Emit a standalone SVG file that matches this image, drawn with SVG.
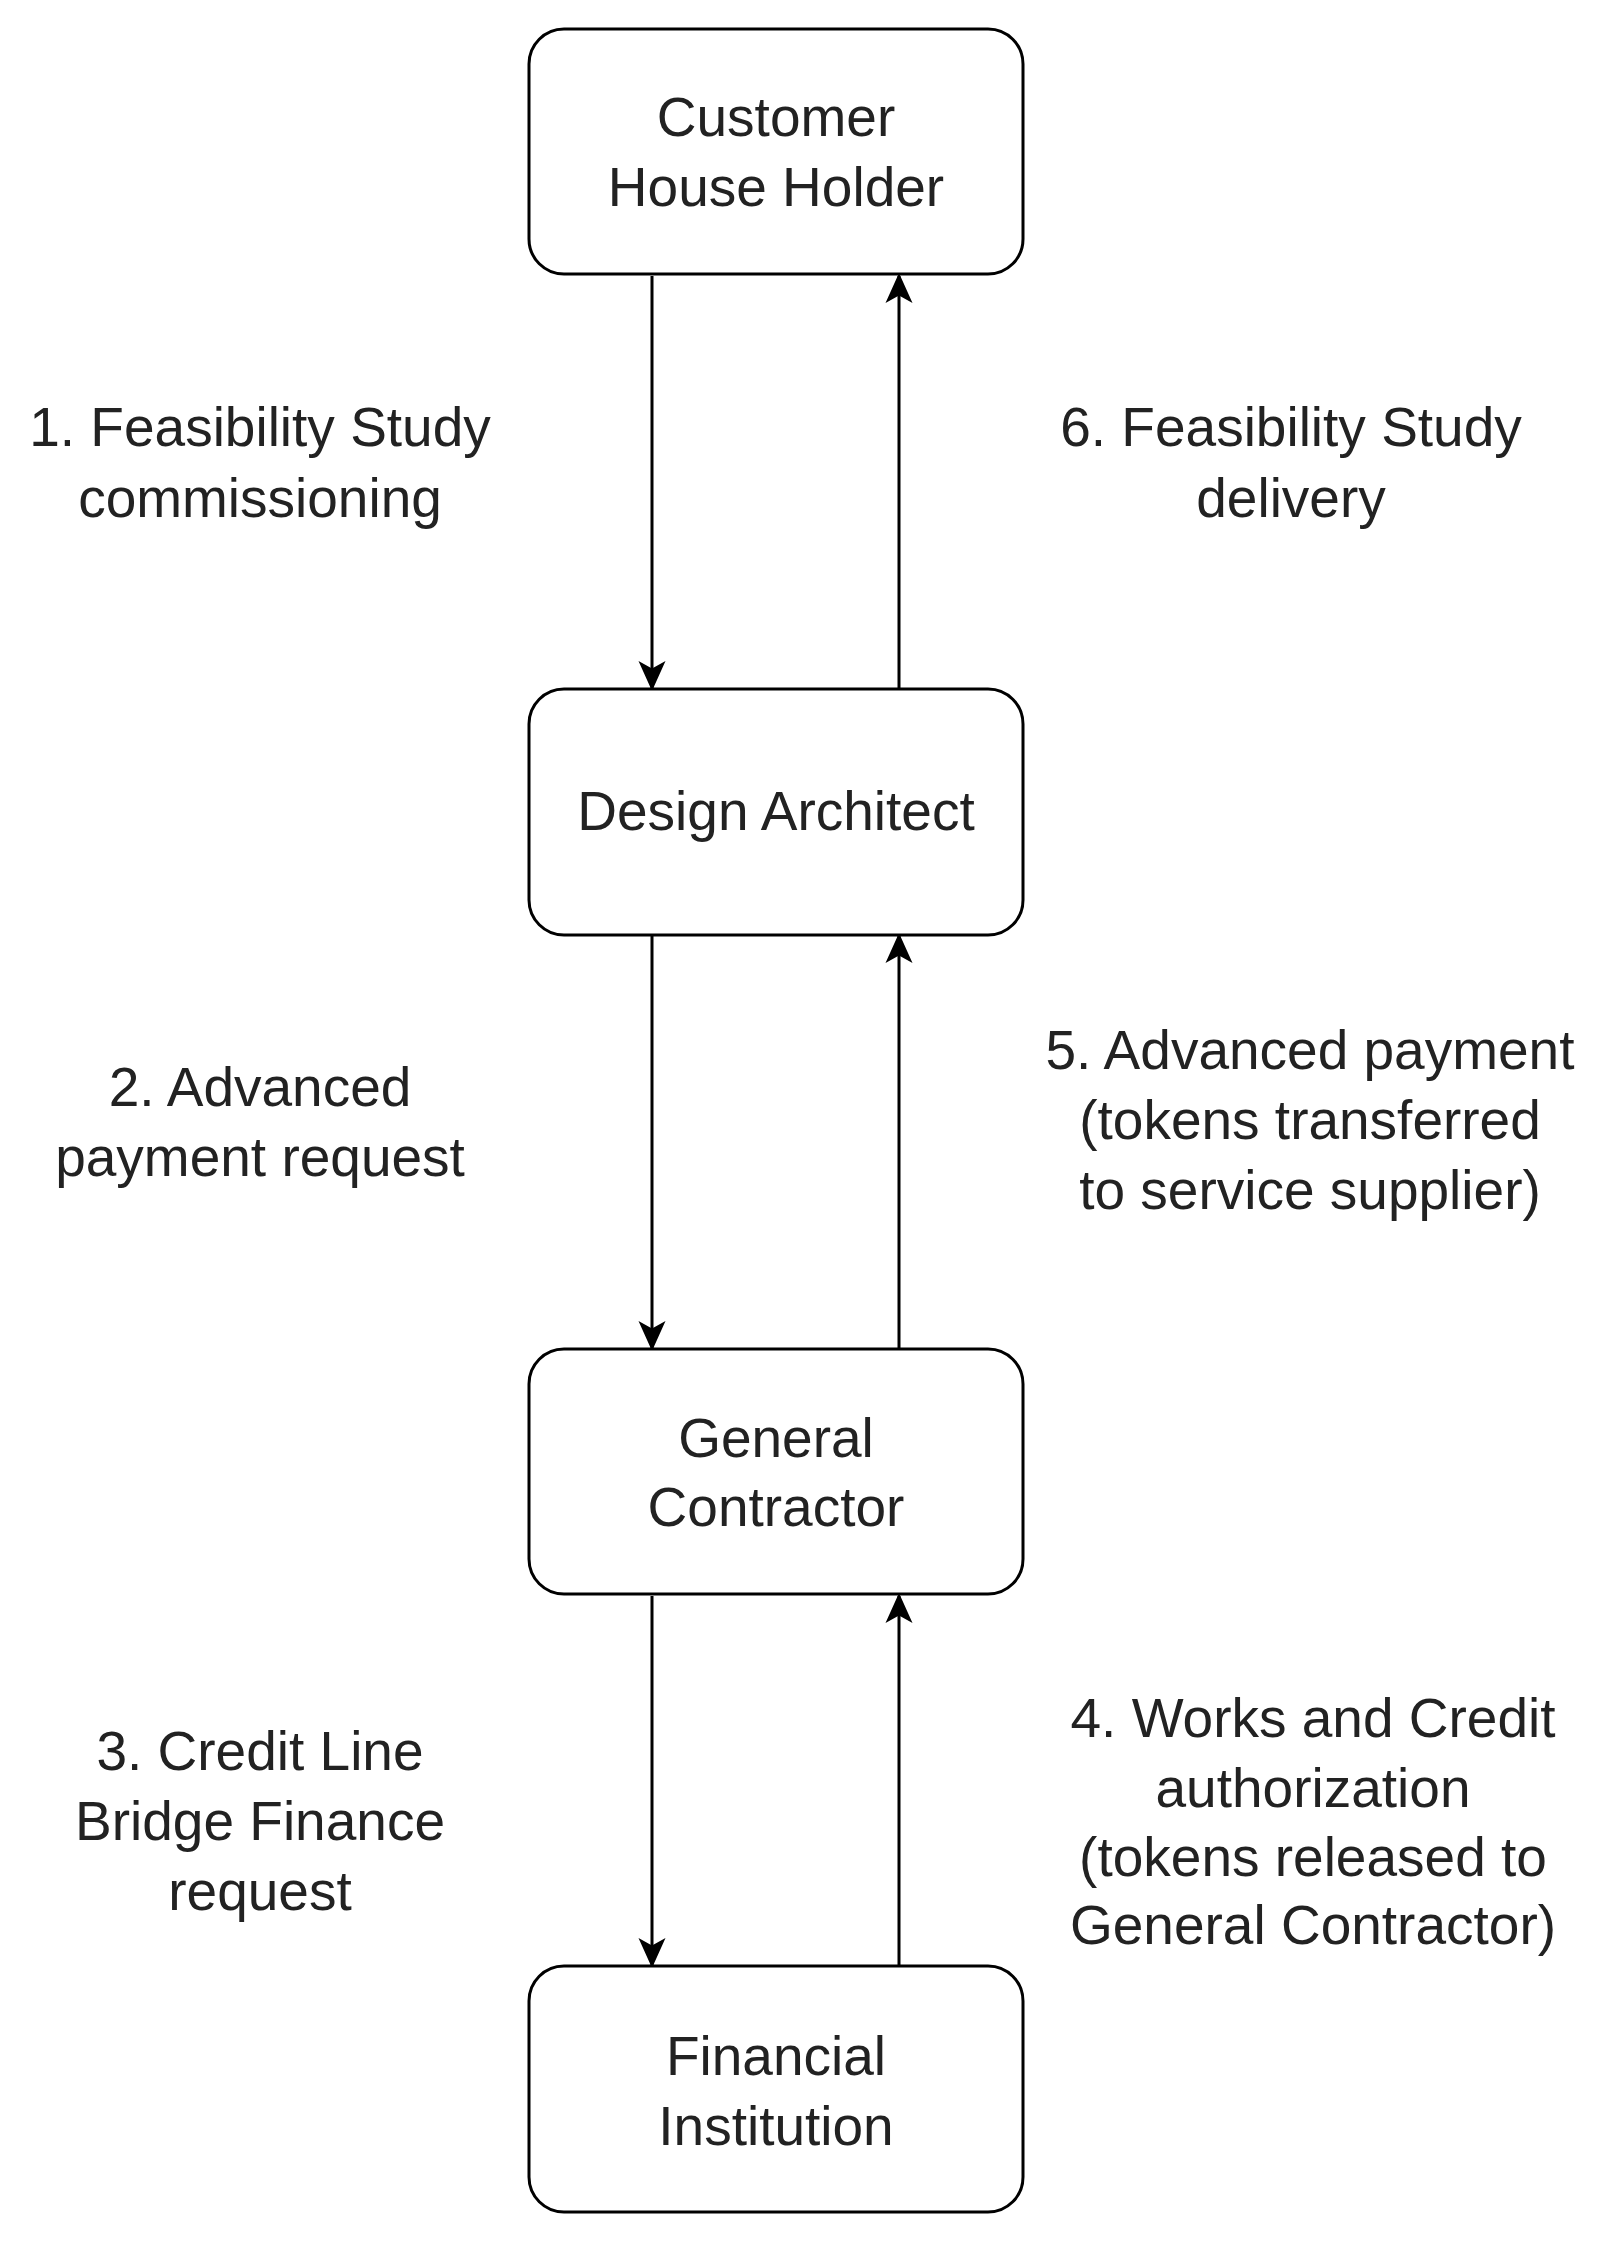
<svg xmlns="http://www.w3.org/2000/svg" width="1612" height="2243" viewBox="0 0 1612 2243">
<style>
.box{fill:#fff;stroke:#000;stroke-width:3}
text{font-family:"Liberation Sans",Arial,sans-serif;font-size:55px;fill:#222;text-anchor:middle;dominant-baseline:central}
.c{stroke:#000;stroke-width:3;fill:none;marker-end:url(#b)}
</style>
<defs><marker id="b" viewBox="0 0 10 10" refX="9" refY="5" markerWidth="30" markerHeight="30" markerUnits="userSpaceOnUse" orient="auto"><path d="M0,0.5L10,5L0,9.5L2.5,5Z" fill="#000"/></marker></defs>
<rect width="1612" height="2243" fill="#fff"/>
<g id="connectors">
<path class="c" d="M652,276V688"/>
<path class="c" d="M899,688V276"/>
<path class="c" d="M652,936V1348"/>
<path class="c" d="M899,1348V936"/>
<path class="c" d="M652,1596V1965"/>
<path class="c" d="M899,1965V1596"/>
<text x="260" y="427">1. Feasibility Study</text><text x="260" y="498">commissioning</text>
<text x="1291" y="427">6. Feasibility Study</text><text x="1291" y="498">delivery</text>
<text x="260" y="1087">2. Advanced</text><text x="260" y="1157">payment request</text>
<text x="1310" y="1050">5. Advanced payment</text><text x="1310" y="1120">(tokens transferred</text><text x="1310" y="1190">to service supplier)</text>
<text x="260" y="1751">3. Credit Line</text><text x="260" y="1821">Bridge Finance</text><text x="260" y="1891">request</text>
<text x="1313" y="1718">4. Works and Credit</text><text x="1313" y="1788">authorization</text><text x="1313" y="1857">(tokens released to</text><text x="1313" y="1925">General Contractor)</text>
</g>
<g id="customer"><rect class="box" x="529" y="29" width="494" height="245" rx="35"/><text x="776" y="117">Customer</text><text x="776" y="187">House Holder</text></g>
<g id="architect"><rect class="box" x="529" y="689" width="494" height="246" rx="35"/><text x="776" y="811">Design Architect</text></g>
<g id="contractor"><rect class="box" x="529" y="1349" width="494" height="245" rx="35"/><text x="776" y="1438">General</text><text x="776" y="1507">Contractor</text></g>
<g id="financial"><rect class="box" x="529" y="1966" width="494" height="246" rx="35"/><text x="776" y="2056">Financial</text><text x="776" y="2126">Institution</text></g>
</svg>
